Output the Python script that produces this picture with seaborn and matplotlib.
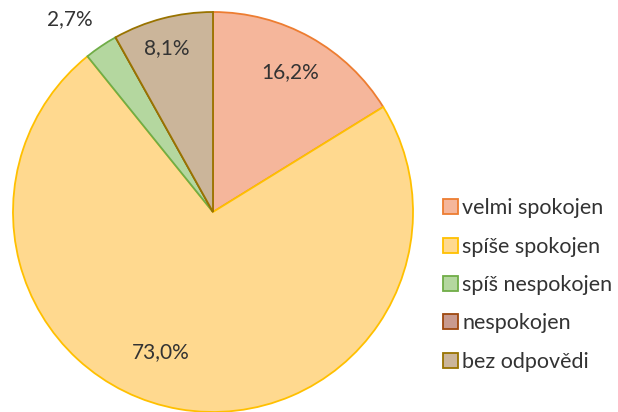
import numpy as np
import matplotlib
matplotlib.use("Agg")
import matplotlib.pyplot as plt
import seaborn as sns

# Data
categories = ["velmi spokojen", "spíše spokojen", "spíš nespokojen", "nespokojen", "bez odpovědi"]
shares = [16.2, 73.0, 2.7, 0.0, 8.1]

fill_colors = ["#F5B69B", "#FFD98F", "#B4D79F", "#C99A8E", "#CBB59A"]
edge_colors = ["#ED7D31", "#FFC000", "#70AD47", "#9E480E", "#997300"]

sns.set_theme(style="white")
plt.rcParams["font.family"] = ["Lato", "DejaVu Sans"]

fig = plt.figure(figsize=(6.18, 4.12), dpi=100)
ax = fig.add_axes([13 / 618, 0 / 412, 400 / 618, 400 / 412])

wedges, _, autotexts = ax.pie(
    shares,
    colors=fill_colors,
    startangle=90,
    counterclock=False,
    autopct=lambda p: "" if p < 0.05 else f"{p:.1f}%".replace(".", ","),
    pctdistance=0.8,
    radius=1.0,
    textprops={"fontsize": 15, "color": "#333333"},
)
for w, ec in zip(wedges, edge_colors):
    w.set_edgecolor(ec)
    w.set_linewidth(1.3)

# move labels like the original (small slice outside, big slice shifted)
def place(txt, r, ang):
    a = np.deg2rad(ang)
    txt.set_position((r * np.cos(a), r * np.sin(a)))

place(autotexts[2], 1.2, 126.7)
place(autotexts[1], 0.75, -110.4)
place(autotexts[0], 0.8, 61.2)
place(autotexts[4], 0.85, 105.7)

ax.set_xlim(-1.0, 1.0)
ax.set_ylim(-1.0, 1.0)
ax.set_aspect("equal")
ax.axis("off")

handles = [
    plt.Rectangle((0, 0), 1, 1, facecolor=fc, edgecolor=ec, linewidth=1.3)
    for fc, ec in zip(fill_colors, edge_colors)
]
fig.legend(
    handles, categories,
    loc="center left", bbox_to_anchor=(428 / 618, (412 - 285) / 412),
    frameon=False, fontsize=15.5, labelcolor="#333333",
    handlelength=0.7, handleheight=0.7, handletextpad=0.2,
    labelspacing=0.85, borderpad=0.2,
)

fig.savefig("out.png", dpi=100)
